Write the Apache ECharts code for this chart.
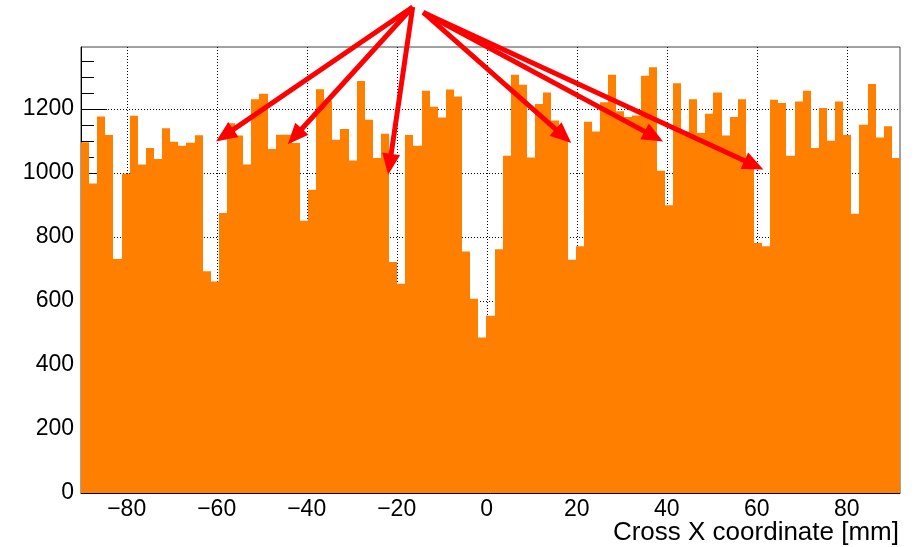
<!DOCTYPE html>
<html>
<head>
<meta charset="utf-8">
<title>Cross X coordinate</title>
<script src="https://cdn.jsdelivr.net/npm/echarts@6/dist/echarts.min.js"></script>
<style>
  html, body { margin: 0; padding: 0; background: #ffffff; }
  #chart { width: 919px; height: 547px; }
</style>
</head>
<body>
<div id="chart"></div>
<script>
// Histogram binning: 101 equal bins spanning the axis range (mm)
const X_MIN = -90.15;
const X_MAX = 91.85;
const N_BINS = 101;
const Y_MAX = 1394;

// Entries per bin, left to right
const COUNTS = [
  1096, 967, 1177, 1119, 731, 998, 1179, 1027, 1078, 1044,
  1140, 1098, 1085, 1095, 1118, 693, 661, 875, 1156, 1117,
  1027, 1231, 1248, 1075, 1120, 1120, 1094, 851, 948, 1262,
  1226, 1104, 1138, 1039, 1288, 1167, 1047, 1123, 722, 654,
  1119, 1085, 1257, 1207, 1174, 1261, 1239, 755, 607, 486,
  554, 762, 1054, 1307, 1276, 1049, 1216, 1252, 1164, 1110,
  729, 771, 1160, 1130, 1221, 1307, 1193, 1175, 1180, 1304,
  1331, 1007, 899, 1281, 1130, 1231, 1125, 1185, 1252, 1117,
  1175, 1231, 1030, 781, 771, 1229, 1219, 1054, 1224, 1257,
  1078, 1203, 1101, 1224, 1119, 873, 1151, 1278, 1111, 1146,
  1047
];

// Axis tick values
const X_MAJOR = [-80, -60, -40, -20, 0, 20, 40, 60, 80];
const X_MINOR = [-85, -75, -70, -65, -55, -50, -45, -35, -30, -25, -15, -10, -5,
                 5, 10, 15, 25, 30, 35, 45, 50, 55, 65, 70, 75, 85, 90];
const Y_MAJOR = [0, 200, 400, 600, 800, 1000, 1200];
const Y_MINOR = [50, 100, 150, 250, 300, 350, 450, 500, 550, 650, 700, 750,
                 850, 900, 950, 1050, 1100, 1150, 1250, 1300, 1350];
// Dotted grid lines
const X_GRID = [-80, -60, -40, -20, 0, 20, 40, 60, 80];
const Y_GRID = [200, 400, 600, 800, 1000, 1200];

// Annotation arrows: common starting points (data units) and tips at the dips
const ARROW_FROM_LEFT = [-16.44, 1519];
const ARROW_FROM_RIGHT = [-14.09, 1502];
const ARROW_TIPS_LEFT = [[-60.15, 1099], [-44.2, 1090], [-21.9, 995]];
const ARROW_TIPS_RIGHT = [[18.8, 1094], [39.2, 1099], [61.5, 1011]];

const X_TITLE = 'Cross X coordinate [mm]';

const BIN_WIDTH = (X_MAX - X_MIN) / N_BINS;
const FILL = '#ff7f00';
const FONT = 'Liberation Sans, Arial, Helvetica, sans-serif';

const histData = COUNTS.map((c, i) => [X_MIN + i * BIN_WIDTH, X_MIN + (i + 1) * BIN_WIDTH, c]);
const gridData = X_GRID.map(v => [0, v]).concat(Y_GRID.map(v => [1, v]));
const arrowData = []
  .concat(ARROW_TIPS_LEFT.map(t => [ARROW_FROM_LEFT[0], ARROW_FROM_LEFT[1], t[0], t[1]]))
  .concat(ARROW_TIPS_RIGHT.map(t => [ARROW_FROM_RIGHT[0], ARROW_FROM_RIGHT[1], t[0], t[1]]));

const fmtX = v => (v < 0 ? '\u2212' + Math.abs(v) : String(v));
const fmtY = v => String(v);

const chart = echarts.init(document.getElementById('chart'), null, { renderer: 'canvas' });

chart.setOption({
  backgroundColor: '#ffffff',
  animation: false,
  // x-axis title, right-aligned under the frame
  title: {
    text: X_TITLE,
    right: 20, top: 520, padding: 0,
    textStyle: { color: '#000', fontFamily: FONT, fontSize: 26, fontWeight: 'normal' }
  },
  grid: {
    left: 81, top: 47, width: 819, height: 446,
    containLabel: false, outerBoundsMode: 'none',
    show: true, borderColor: '#444', borderWidth: 1, backgroundColor: 'transparent'
  },
  xAxis: [
    {
      type: 'value', min: X_MIN, max: X_MAX, position: 'bottom',
      axisLine: { show: true, onZero: false, lineStyle: { color: '#000', width: 1 } },
      axisTick: { show: true, inside: true, length: 11, customValues: X_MAJOR, lineStyle: { color: '#000', width: 1 } },
      axisLabel: { show: true, customValues: X_MAJOR, formatter: fmtX, margin: 5,
                   color: '#000', fontFamily: FONT, fontSize: 23 },
      splitLine: { show: false }
    },
    {
      type: 'value', min: X_MIN, max: X_MAX, position: 'bottom',
      axisLine: { show: false, onZero: false },
      axisTick: { show: true, inside: true, length: 5, customValues: X_MINOR, lineStyle: { color: '#000', width: 1 } },
      axisLabel: { show: false },
      splitLine: { show: false }
    }
  ],
  yAxis: [
    {
      type: 'value', min: 0, max: Y_MAX, position: 'left',
      axisLine: { show: true, onZero: false, lineStyle: { color: '#000', width: 1 } },
      axisTick: { show: true, inside: true, length: 26, customValues: Y_MAJOR, lineStyle: { color: '#000', width: 1 } },
      axisLabel: { show: true, customValues: Y_MAJOR, formatter: fmtY, margin: 7,
                   color: '#000', fontFamily: FONT, fontSize: 23 },
      splitLine: { show: false }
    },
    {
      type: 'value', min: 0, max: Y_MAX, position: 'left',
      axisLine: { show: false, onZero: false },
      axisTick: { show: true, inside: true, length: 13, customValues: Y_MINOR, lineStyle: { color: '#000', width: 1 } },
      axisLabel: { show: false },
      splitLine: { show: false }
    }
  ],
  series: [
    {
      name: 'grid',
      type: 'custom',
      xAxisIndex: 0, yAxisIndex: 0,
      data: gridData,
      encode: { x: 1 },
      silent: true,
      renderItem: function (params, api) {
        const cs = params.coordSys;
        const vertical = api.value(0) === 0;
        const v = api.value(1);
        let shape;
        if (vertical) {
          const x = Math.round(api.coord([v, 0])[0]) + 0.5;
          shape = { x1: x, y1: cs.y, x2: x, y2: cs.y + cs.height };
        } else {
          const y = Math.round(api.coord([X_MIN, v])[1]) + 0.5;
          shape = { x1: cs.x, y1: y, x2: cs.x + cs.width, y2: y };
        }
        return {
          type: 'line', shape: shape,
          style: { stroke: '#000', lineWidth: 1, lineDash: [1, 2] }
        };
      },
      z: 1
    },
    {
      name: 'histogram',
      type: 'custom',
      xAxisIndex: 0, yAxisIndex: 0,
      data: histData,
      encode: { x: [0, 1], y: 2 },
      renderItem: function (params, api) {
        const top = api.coord([api.value(0), api.value(2)]);
        const base = api.coord([api.value(1), 0]);
        const x0 = Math.round(top[0]);
        const x1 = Math.round(base[0]);
        return {
          type: 'rect',
          shape: { x: x0, y: top[1], width: x1 - x0, height: base[1] - top[1] },
          style: { fill: FILL }
        };
      },
      z: 2
    },
    {
      name: 'arrows',
      type: 'custom',
      xAxisIndex: 0, yAxisIndex: 0,
      clip: false,
      data: arrowData,
      encode: { x: [0, 2], y: [1, 3] },
      renderItem: function (params, api) {
        const a = api.coord([api.value(0), api.value(1)]);
        const b = api.coord([api.value(2), api.value(3)]);
        const dx = b[0] - a[0], dy = b[1] - a[1];
        const len = Math.sqrt(dx * dx + dy * dy);
        const ux = dx / len, uy = dy / len;
        const nx = -uy, ny = ux;
        const headLen = 21, headHalf = 9;
        const bx = b[0] - ux * headLen, by = b[1] - uy * headLen;
        return {
          type: 'group',
          children: [
            {
              type: 'line',
              shape: { x1: a[0], y1: a[1], x2: bx + ux * 2, y2: by + uy * 2 },
              style: { stroke: '#ff0000', lineWidth: 5 }
            },
            {
              type: 'polygon',
              shape: { points: [[b[0], b[1]], [bx + nx * headHalf, by + ny * headHalf], [bx - nx * headHalf, by - ny * headHalf]] },
              style: { fill: '#ff0000' }
            }
          ]
        };
      },
      z: 5
    }
  ]
});
</script>
</body>
</html>
